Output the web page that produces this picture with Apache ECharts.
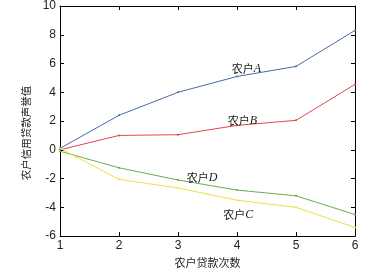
<!DOCTYPE html>
<html>
<head>
<meta charset="utf-8">
<script src="https://cdn.jsdelivr.net/npm/echarts@6/dist/echarts.min.js"></script>
<style>
  html, body { margin: 0; padding: 0; background: #fff; }
  #main { width: 383px; height: 273px; }
</style>
</head>
<body>
<div id="main"></div>
<script>
// 贷款次数
var loanTimes = [1, 2, 3, 4, 5, 6];
// 各农户声誉值
var farmerA = [0.1, 2.4, 4.0, 5.1, 5.8, 8.3];
var farmerB = [0.0, 1.0, 1.05, 1.7, 2.05, 4.55];
var farmerC = [0.1, -2.05, -2.65, -3.5, -4.0, -5.4];
var farmerD = [-0.1, -1.25, -2.1, -2.8, -3.2, -4.5];
var yTicks = [-6, -4, -2, 0, 2, 4, 6, 8, 10];

var chart = echarts.init(document.getElementById('main'));

function pairs(ys) {
  return loanTimes.map(function (x, i) { return [x, ys[i]]; });
}

function lineSeries(name, ys, color, labelPos) {
  return {
    name: name,
    type: 'line',
    data: pairs(ys),
    symbol: 'circle',
    symbolSize: 2,
    lineStyle: { width: 1, color: color },
    itemStyle: { color: color },
    markPoint: {
      symbol: 'circle',
      symbolSize: 0,
      data: [{ coord: labelPos }],
      label: {
        show: true,
        formatter: '{cn|农户}{it|' + name + '}',
        rich: {
          cn: { fontFamily: 'Noto Sans CJK SC', fontSize: 11, color: '#222' },
          it: { fontFamily: 'Liberation Serif', fontStyle: 'italic', fontSize: 12, color: '#222' }
        }
      }
    }
  };
}

var axisStyle = { onZero: false, lineStyle: { color: '#000', width: 1 } };
var tickStyle = { inside: true, length: 4, lineStyle: { color: '#000' } };

var option = {
  animation: false,
  grid: { left: 60, right: 28, top: 6, bottom: 34 },
  xAxis: [{
    type: 'value', min: 1, max: 6, interval: 1,
    name: '农户贷款次数', nameLocation: 'middle', nameGap: 17,
    nameTextStyle: { fontFamily: 'Noto Sans CJK SC', fontSize: 11, color: '#222' },
    axisLine: axisStyle, axisTick: tickStyle,
    axisLabel: { color: '#222', fontFamily: 'Liberation Sans', fontSize: 12, margin: 4 },
    splitLine: { show: false }
  }, {
    type: 'value', min: 1, max: 6, interval: 1, position: 'top',
    axisLine: axisStyle, axisTick: tickStyle,
    axisLabel: { show: false }, splitLine: { show: false }
  }],
  yAxis: [{
    type: 'value', min: yTicks[0], max: yTicks[yTicks.length - 1], interval: 2,
    name: '农户信用贷款声誉值', nameLocation: 'middle', nameGap: 17,
    nameTextStyle: { fontFamily: 'Noto Sans CJK SC', fontSize: 10.5, color: '#222', padding: [0, 24, 0, 0] },
    axisLine: axisStyle, axisTick: tickStyle,
    axisLabel: { color: '#222', fontFamily: 'Liberation Sans', fontSize: 12, margin: 4 },
    splitLine: { show: false }
  }, {
    type: 'value', min: yTicks[0], max: yTicks[yTicks.length - 1], interval: 2, position: 'right',
    axisLine: axisStyle, axisTick: tickStyle,
    axisLabel: { show: false }, splitLine: { show: false }
  }],
  series: [
    lineSeries('A', farmerA, '#4a69a8', [4.16, 5.6]),
    lineSeries('B', farmerB, '#e8424e', [4.09, 2.0]),
    lineSeries('D', farmerD, '#6aae4a', [3.41, -1.95]),
    lineSeries('C', farmerC, '#eee03c', [4.02, -4.5])
  ]
};
chart.setOption(option);
</script>
</body>
</html>
